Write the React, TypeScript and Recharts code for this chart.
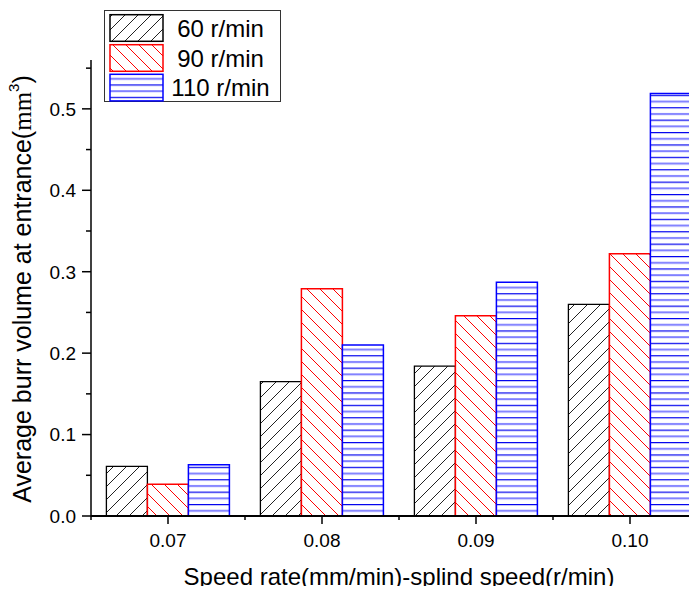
import React from 'react';
import { BarChart, Bar, XAxis, YAxis } from 'recharts';

const categories = ['0.07', '0.08', '0.09', '0.10'];
const rpm60 = [0.061, 0.165, 0.184, 0.26];
const rpm90 = [0.039, 0.279, 0.246, 0.322];
const rpm110 = [0.063, 0.21, 0.287, 0.519];
const seriesNames = ['60 r/min', '90 r/min', '110 r/min'];
const yTicks = [0, 0.05, 0.1, 0.15, 0.2, 0.25, 0.3, 0.35, 0.4, 0.45, 0.5, 0.55];

const data = categories.map((c, i) => ({
  cat: c,
  s60: rpm60[i],
  s90: rpm90[i],
  s110: rpm110[i],
}));

const FONT = '"Liberation Sans", Arial, sans-serif';
const BAND = 616 / 4;

function Patterns({ prefix }: { prefix: string }) {
  return (
    <defs>
      <pattern id={`${prefix}-black`} patternUnits="userSpaceOnUse" width={13} height={13}>
        <rect width={13} height={13} fill="#fff" />
        <path d="M-1,1 L1,-1 M0,13 L13,0 M12,14 L14,12" stroke="#222" strokeWidth={1} />
      </pattern>
      <pattern id={`${prefix}-red`} patternUnits="userSpaceOnUse" width={13} height={13}>
        <rect width={13} height={13} fill="#fff" />
        <path d="M-1,12 L1,14 M0,0 L13,13 M12,-1 L14,1" stroke="#ff0000" strokeWidth={1} />
      </pattern>
      <pattern id={`${prefix}-blue`} patternUnits="userSpaceOnUse" width={10} height={12.4}>
        <rect width={10} height={12.4} fill="#fff" />
        <line x1={0} x2={10} y1={0.6} y2={0.6} stroke="#0000ee" strokeWidth={1.2} />
        <line x1={0} x2={10} y1={6.8} y2={6.8} stroke="#7f7fff" strokeWidth={2} />
      </pattern>
    </defs>
  );
}

function XTick(props: any) {
  const { x, y, payload, index } = props;
  return (
    <g>
      <line x1={x} x2={x} y1={y} y2={y + 8} stroke="#000" strokeWidth={1.5} />
      <line x1={x - BAND / 2} x2={x - BAND / 2} y1={y} y2={y + 4} stroke="#000" strokeWidth={1.5} />
      {index === categories.length - 1 && (
        <line x1={x + BAND / 2} x2={x + BAND / 2} y1={y} y2={y + 4} stroke="#000" strokeWidth={1.5} />
      )}
      <text x={x} y={y + 31} textAnchor="middle" fontFamily={FONT} fontSize={19} fill="#000">
        {payload.value}
      </text>
    </g>
  );
}

function YTick(props: any) {
  const { x, y, payload } = props;
  const v = payload.value as number;
  const major = Math.round(v * 100) % 10 === 0;
  return (
    <g>
      <line x1={x - (major ? 9 : 5)} x2={x} y1={y} y2={y} stroke="#000" strokeWidth={1.5} />
      {major && (
        <text x={x - 15} y={y} dy="0.36em" textAnchor="end" fontFamily={FONT} fontSize={19} fill="#000">
          {v.toFixed(1)}
        </text>
      )}
    </g>
  );
}

function YLabel(props: any) {
  const vb = props.viewBox || { x: 8, y: 52, width: 83, height: 456 };
  const cx = vb.x + 14;
  const cy = vb.y + vb.height / 2 + 1;
  return (
    <text
      x={cx}
      y={cy}
      transform={`rotate(-90, ${cx}, ${cy})`}
      textAnchor="middle"
      dominantBaseline="central"
      fontFamily={FONT}
      fontSize={25}
      fill="#000"
    >
      Average burr volume at entrance(
      <tspan fontFamily='"Liberation Serif", "Times New Roman", serif'>mm</tspan>
      <tspan dy={-9} fontSize={15}>3</tspan>
      <tspan dy={9}>)</tspan>
    </text>
  );
}

function XLabel(props: any) {
  const vb = props.viewBox || { x: 91, y: 508, width: 616, height: 60 };
  return (
    <text x={vb.x + vb.width / 2} y={vb.y + 69} textAnchor="middle" fontFamily={FONT} fontSize={24} fill="#000">
      Speed rate(mm/min)-splind speed(r/min)
    </text>
  );
}

function LegendBox() {
  const ids = ['lg-black', 'lg-red', 'lg-blue'];
  const strokes = ['#000', '#ff0000', '#0000ff'];
  const rows = [4.7, 34.7, 64.3];
  return (
    <svg width={180} height={96} style={{ position: 'absolute', left: 104, top: 2 }}>
      <Patterns prefix="lg" />
      <rect x={0.5} y={0.5} width={176} height={91} fill="#fff" stroke="#333" strokeWidth={1} />
      {seriesNames.map((n, i) => (
        <g key={n}>
          <rect x={6} y={rows[i]} width={53} height={26.6} fill={`url(#${ids[i]})`} stroke={strokes[i]} strokeWidth={1.5} />
          <text x={116.5} y={rows[i] + 13.3} dy="0.36em" textAnchor="middle" fontFamily={FONT} fontSize={24} fill="#000">
            {n}
          </text>
        </g>
      ))}
    </svg>
  );
}

export default function App() {
  return (
    <div style={{ marginLeft: -8, width: 697, height: 578, position: 'relative' }}>
      <div style={{ position: 'absolute', left: 0, top: 0, width: 697, height: 586, overflow: 'hidden' }}>
        <BarChart
          width={720}
          height={586}
          data={data}
          margin={{ top: 52, right: 13, bottom: 18, left: 8 }}
          barCategoryGap="10%"
          barGap={0}
        >
          <Patterns prefix="ch" />
          <XAxis
            dataKey="cat"
            height={60}
            tickSize={0}
            tickMargin={0}
            tickLine={false}
            tick={<XTick />}
            axisLine={{ stroke: '#000', strokeWidth: 2 }}
            interval={0}
            label={<XLabel />}
          />
          <YAxis
            width={83}
            domain={[0, 0.56]}
            ticks={yTicks}
            type="number"
            allowDataOverflow
            tickSize={0}
            tickMargin={0}
            tickLine={false}
            tick={<YTick />}
            axisLine={{ stroke: '#000', strokeWidth: 1.5 }}
            interval={0}
            label={<YLabel />}
          />
          <Bar dataKey="s60" fill="url(#ch-black)" stroke="#000" strokeWidth={1.3} isAnimationActive={false} />
          <Bar dataKey="s90" fill="url(#ch-red)" stroke="#ff0000" strokeWidth={1.5} isAnimationActive={false} />
          <Bar dataKey="s110" fill="url(#ch-blue)" stroke="#0000ff" strokeWidth={1.5} isAnimationActive={false} />
        </BarChart>
      </div>
      <LegendBox />
    </div>
  );
}
